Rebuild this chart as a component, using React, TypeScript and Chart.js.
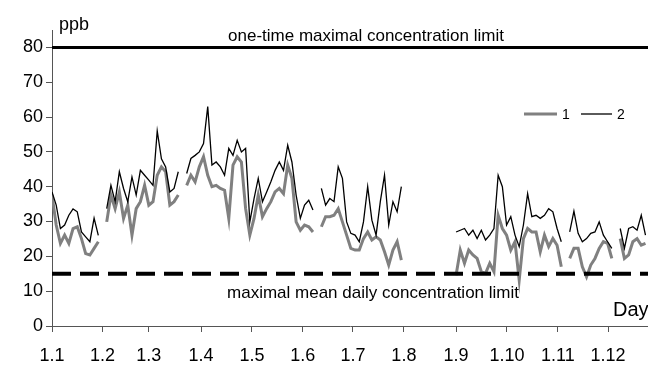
import React, { useEffect, useRef } from "react";
import { Chart, registerables } from "chart.js";

Chart.register(...registerables);

// x positions are in 2-hour steps (12 per day), starting at 1.1
const dayLabels = ["1.1", "1.2", "1.3", "1.4", "1.5", "1.6", "1.7", "1.8", "1.9", "1.10", "1.11", "1.12"];
const dayTickPos = [0, 12, 23, 35.4, 47.5, 59.6, 71.5, 83.6, 96, 108.1, 120.2, 132.1];
const xMax = 141.6;

const yTicks = [0, 10, 20, 30, 40, 50, 60, 70, 80];

const oneTimeLimit = 80;
const dailyLimit = 15;

const N = null;

// series 1 (grey, thick)
const series1: (number | null)[] = [
  37.6, 29, 23.7, 26.1, 23.7, 28, 28.5, 25.1, 20.8, 20.4, 22.3, 24.2,
  N, 29.9, 37.6, 33.7, 38.5, 30.9, 34.7, 26.1, 33.7, 35.7, 40.4, 34.7,
  35.7, 43.3, 45.7, 44.3, 34.7, 35.7, 37.6, N, 40.4, 43.3, 41.4, 45.7,
  48.6, 43.3, 40, 40.4, 39.5, 39, 30.9, 46.2, 48.6, 47.1, 33.7, 26.1,
  30.9, 37.6, 31.4, 33.7, 35.7, 38.5, 39.5, 38, 46.2, 42.4, 29.9, 27.5,
  29, 28.5, 27, N, 28.5, 31.4, 31.4, 31.8, 33.7, 29.9, 26.1, 22.3,
  21.8, 21.8, 25.1, 27, 24.7, 25.6, 24.7, 21.3, 17.5, 21.8, 24.2, 18.9,
  N, N, N, N, N, N, N, N, N, N, N, N,
  14.6, 21.8, 18, 21.8, 20.4, 19.4, 15.6, 15.1, 18, 15.6, 31.8, 28,
  26.1, 21.8, 24.2, 13.2, 25.1, 28, 27, 27, 21.3, 26.1, 22.8, 25.1,
  23.2, 17, N, 19.4, 22.3, 22.3, 17, 14.1, 17.5, 19.4, 22.3, 24.2,
  23.7, 19.4, N, 25.1, 19.4, 20.4, 24.2, 25.1, 23.2, 23.7,
];

// series 2 (black, thin)
const series2: (number | null)[] = [
  38.5, 34.7, 28, 29, 31.8, 33.6, 32.8, 27, 25.6, 24.2, 31, 26,
  N, 33.7, 40.4, 35.7, 44.3, 39.5, 35.7, 42.8, 37.6, 44.7, 43.3, 41.9,
  40.4, 56, 48, 45.7, 38.5, 39.5, 44.3, N, 43.8, 48.1, 49, 50,
  52.4, 63, 46.2, 47.1, 45.7, 43.3, 51, 49, 53.3, 50, 51, 29.9,
  36.6, 42.4, 35.7, 38.5, 41.4, 44.7, 47.1, 44.7, 51.9, 47.1, 37.6, 30.9,
  34.7, 36.1, 33.3, N, 39.5, 34.7, 36.6, 35.7, 45.7, 42.4, 29.9, 26.6,
  26.1, 24.2, 29.9, 40, 30.4, 26.1, 35.7, 43.3, 29, 35.7, 32.8, 40,
  N, N, N, N, N, N, N, N, N, N, N, N,
  27, 27.5, 28, 26.1, 27.5, 25.1, 27.5, 24.7, 26.1, 28, 43.3, 40,
  29, 31.4, 26.1, 22.8, 29, 38, 31.4, 31.8, 30.9, 31.8, 33.7, 32.8,
  28, 24.2, N, 27, 33, 26.6, 24.2, 25.1, 26.6, 27, 29.9, 26.1,
  24.2, 22.3, N, 28, 22.3, 28, 28.5, 27.5, 31.8, 26.1,
];

const seriesNames = ["1", "2"];
const FONT = "'Liberation Sans', Arial, Helvetica, sans-serif";

const textPlugin = {
  id: "annotTexts",
  afterDatasetsDraw(chart: any) {
    const ctx = chart.ctx as CanvasRenderingContext2D;
    const xs = chart.scales.x;
    const ys = chart.scales.y;
    ctx.save();
    ctx.fillStyle = "#000";
    // unit label
    ctx.font = `18px ${FONT}`;
    ctx.textAlign = "left";
    ctx.textBaseline = "alphabetic";
    ctx.fillText("ppb", 59, 30);
    // limits labels
    ctx.font = `17px ${FONT}`;
    ctx.textAlign = "center";
    ctx.fillText("one-time maximal concentration limit", 366, ys.getPixelForValue(oneTimeLimit) - 6);
    ctx.fillText("maximal mean daily concentration limit", 373, ys.getPixelForValue(dailyLimit) + 24);
    // axis title
    ctx.font = `20px ${FONT}`;
    ctx.textAlign = "left";
    ctx.fillText("Day", 613, 316);
    // legend
    const ds = chart.data.datasets;
    const ly = 114;
    const items = [
      { x0: 524, x1: 557, tx: 562 },
      { x0: 581, x1: 612, tx: 617 },
    ];
    ctx.font = `14px ${FONT}`;
    ctx.textBaseline = "middle";
    items.forEach((it, k) => {
      ctx.strokeStyle = ds[k].borderColor;
      ctx.lineWidth = k === 0 ? 3 : 1.3;
      ctx.beginPath();
      ctx.moveTo(it.x0, ly);
      ctx.lineTo(it.x1, ly);
      ctx.stroke();
      ctx.fillText(seriesNames[k], it.tx, ly + 1);
    });
    ctx.restore();
  },
};

export default function App() {
  const ref = useRef<HTMLCanvasElement | null>(null);
  useEffect(() => {
    if (!ref.current) return;
    Chart.defaults.font.family = FONT;
    const toPts = (arr: (number | null)[]) => arr.map((y, i) => ({ x: i, y }));
    const chart = new Chart(ref.current, {
      type: "line",
      data: {
        datasets: [
          {
            label: seriesNames[0],
            data: toPts(series1) as any,
            borderColor: "#808080",
            borderWidth: 3,
            pointRadius: 0,
            spanGaps: false,
            tension: 0,
            order: 3,
          },
          {
            label: seriesNames[1],
            data: toPts(series2) as any,
            borderColor: "#000000",
            borderWidth: 1.3,
            pointRadius: 0,
            spanGaps: false,
            tension: 0,
            order: 2,
          },
          {
            label: "one-time",
            data: [{ x: 0, y: oneTimeLimit }, { x: xMax, y: oneTimeLimit }] as any,
            borderColor: "#000000",
            borderWidth: 3,
            pointRadius: 0,
            order: 1,
          },
          {
            label: "daily",
            data: [{ x: 0, y: dailyLimit }, { x: xMax, y: dailyLimit }] as any,
            borderColor: "#000000",
            borderWidth: 4,
            borderDash: [19, 9],
            pointRadius: 0,
            order: 1,
          },
        ],
      },
      options: {
        animation: false,
        responsive: false,
        layout: { padding: { top: 30, left: 0, right: 0, bottom: 0 } },
        plugins: { legend: { display: false }, tooltip: { enabled: false } },
        scales: {
          x: {
            type: "linear",
            min: 0,
            max: xMax,
            afterBuildTicks: (s: any) => {
              s.ticks = dayTickPos.map((v) => ({ value: v }));
            },
            afterFit: (s: any) => {
              s.height = 39;
            },
            ticks: {
              autoSkip: false,
              maxRotation: 0,
              minRotation: 0,
              padding: 13,
              color: "#000",
              font: { size: 18, family: FONT },
              callback: (_v: any, idx: number) => dayLabels[idx],
            },
            grid: { drawOnChartArea: false, drawTicks: true, tickLength: 6, color: "#555" },
            border: { color: "#555", width: 1 },
          },
          y: {
            type: "linear",
            min: 0,
            max: 85,
            afterBuildTicks: (s: any) => {
              s.ticks = yTicks.map((v) => ({ value: v }));
            },
            afterFit: (s: any) => {
              s.width = 52;
            },
            ticks: {
              padding: 3,
              color: "#000",
              font: { size: 18, family: FONT },
            },
            grid: { drawOnChartArea: false, drawTicks: true, tickLength: 6, color: "#555" },
            border: { color: "#555", width: 1 },
          },
        },
      },
      plugins: [textPlugin],
    });
    return () => chart.destroy();
  }, []);
  return (
    <div style={{ position: "absolute", left: 0, top: 0, width: 648, height: 365, background: "#fff" }}>
      <canvas ref={ref} width={648} height={365} style={{ width: 648, height: 365 }} />
    </div>
  );
}
